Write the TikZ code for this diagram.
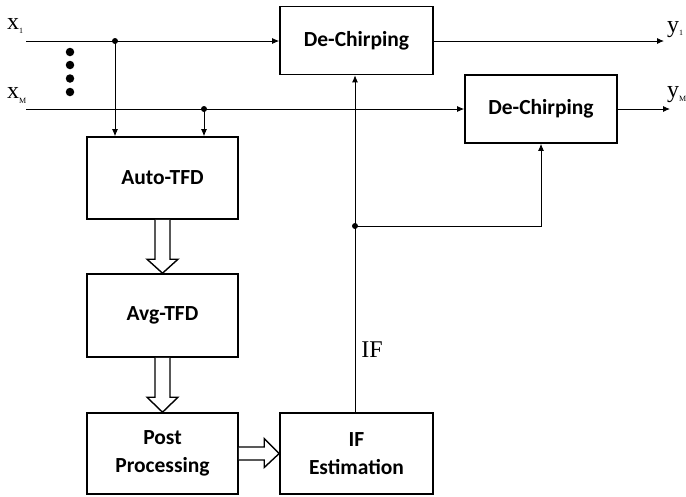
\documentclass[tikz,border=0pt]{standalone}
\usepackage{fontspec}
\setmainfont{Liberation Serif}
\newfontfamily\boxfont{Carlito}
\usetikzlibrary{calc,arrows.meta}
\begin{document}
\begin{tikzpicture}[x=1pt,y=-1pt,
  blockbox/.style={draw,line width=1.6pt,inner sep=0pt,align=center,
    font=\boxfont\bfseries\fontsize{21.5}{28}\selectfont},
  conn/.style={line width=0.9pt,-{Latex[length=7pt,width=6pt]}},
  plainline/.style={line width=0.9pt},
  hollow/.style={line width=1.4pt,fill=white,line join=miter},
  junction/.style={circle,fill=black,inner sep=0pt,minimum size=6pt},
  bigdot/.style={circle,fill=black,inner sep=0pt,minimum size=8.5pt},
  lbl/.style={inner sep=0pt,font=\fontsize{24}{24}\selectfont}]
\useasboundingbox (0,0) rectangle (686,496);

% blocks
\node[blockbox,minimum width=153pt,minimum height=68pt] (dc1) at (356.5,40.5) {De-Chirping};
\node[blockbox,minimum width=152pt,minimum height=68pt] (dc2) at (541,109) {De-Chirping};
\node[blockbox,minimum width=151pt,minimum height=82pt] (auto) at (162.5,178) {Auto-TFD};
\node[blockbox,minimum width=151pt,minimum height=83pt] (avg) at (162.5,315.5) {Avg-TFD};
\node[blockbox,minimum width=151pt,minimum height=81pt] (post) at (162.5,453.5) {Post\\Processing};
\node[blockbox,minimum width=153pt,minimum height=81pt] (ife) at (356.5,453.5) {IF\\Estimation};

% inputs
\coordinate (in1) at (26,41);
\coordinate (inM) at (26,109);
\node[junction] (j1) at (115,41) {};
\node[junction] (jM) at (204,109) {};
\draw[conn] (in1) -- (dc1.west |- in1);
\draw[conn] (inM) -- (dc2.west |- inM);
\draw[conn] (j1.center) -- (j1.center |- auto.north);
\draw[conn] (jM.center) -- (jM.center |- auto.north);

% input labels
\node[lbl,anchor=base west] (lx1) at (7,29) {x\raisebox{-4pt}{\fontsize{8}{8}\selectfont 1}};
\node[lbl,anchor=base west] (lxM) at (7,98) {x\raisebox{-5pt}{\fontsize{8}{8}\selectfont M}};

% vertical ellipsis dots
\node[bigdot] (e1) at (70,52) {};
\node[bigdot] (e2) at (70,65) {};
\node[bigdot] (e3) at (70,78.5) {};
\node[bigdot] (e4) at (70,92) {};

% outputs
\coordinate (out1) at (664,41);
\coordinate (outM) at (670,109);
\draw[conn] (dc1.east |- out1) -- (out1);
\draw[conn] (dc2.east) -- (outM);
\node[lbl,anchor=base west] (ly1) at (667,32) {y\raisebox{-3pt}{\fontsize{8}{8}\selectfont 1}};
\node[lbl,anchor=base west] (lyM) at (667,97) {y\raisebox{-4pt}{\fontsize{8}{8}\selectfont M}};

% hollow block arrows
\draw[hollow] ($(auto.south)+(-7.5,0)$) -- ($(avg.north)+(-7.5,-14)$) -- ($(avg.north)+(-15.5,-14)$)
  -- (avg.north) -- ($(avg.north)+(15.5,-14)$) -- ($(avg.north)+(7.5,-14)$) -- ($(auto.south)+(7.5,0)$);
\draw[hollow] ($(avg.south)+(-7.5,0)$) -- ($(post.north)+(-7.5,-15)$) -- ($(post.north)+(-15.5,-15)$)
  -- (post.north) -- ($(post.north)+(15.5,-15)$) -- ($(post.north)+(7.5,-15)$) -- ($(avg.south)+(7.5,0)$);
\draw[hollow] ($(post.east)+(0,-6.5)$) -- ($(ife.west)+(-15,-6.5)$) -- ($(ife.west)+(-15,-15)$)
  -- (ife.west) -- ($(ife.west)+(-15,14)$) -- ($(ife.west)+(-15,6.5)$) -- ($(post.east)+(0,6.5)$);

% IF feedback
\node[junction] (jIF) at (355,226) {};
\draw[conn] (ife.north -| jIF) -- (dc1.south -| jIF);
\draw[conn] (jIF.center) -| (dc2.south);
\node[lbl] (iflabel) at (372,350) {IF};
\end{tikzpicture}
\end{document}
